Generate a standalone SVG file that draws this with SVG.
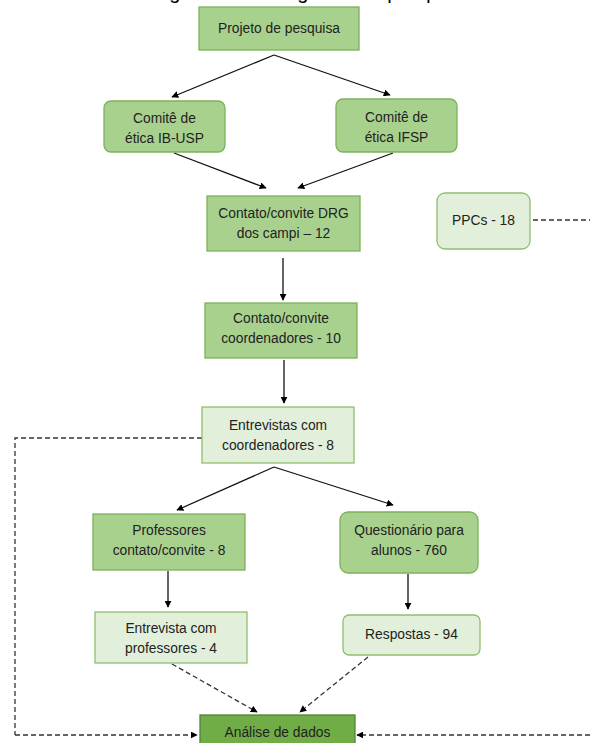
<svg xmlns="http://www.w3.org/2000/svg" width="590" height="743" viewBox="0 0 590 743">
<style>
.dark{fill:#a9d18e;stroke:#7cb15a;stroke-width:1.3}
.light{fill:#e2efda;stroke:#8fbf6e;stroke-width:1.3}
.main{fill:#70ad47;stroke:#548235;stroke-width:1.3}
text{font-family:"Liberation Sans",Arial,sans-serif;font-size:13.8px;fill:#222;text-anchor:middle}
.title{font-size:20px;fill:#000}
.solid{stroke:#111;stroke-width:1.3;fill:none;marker-end:url(#ah)}
.dash{stroke:#333;stroke-width:1.3;fill:none;stroke-dasharray:5 3}
.dasha{stroke:#333;stroke-width:1.3;fill:none;stroke-dasharray:5 3;marker-end:url(#ah)}
</style>
<defs>
<marker id="ah" viewBox="0 0 10 10" refX="9" refY="5" markerWidth="7" markerHeight="7" orient="auto" markerUnits="userSpaceOnUse"><path d="M0,0 L10,5 L0,10 z" fill="#000"/></marker>
</defs>
<rect width="590" height="743" fill="#fff"/>
<text class="title" x="310" y="-1">Figura 1 – Fluxograma da pesquisa</text>
<g id="connectors">
<path class="solid" d="M274,55 L172,97"/>
<path class="solid" d="M274,55 L390,95"/>
<path class="solid" d="M174,153 L266,188"/>
<path class="solid" d="M393,153 L298,188"/>
<path class="solid" d="M283,258 L283,300"/>
<path class="solid" d="M284,360 L284,403"/>
<path class="solid" d="M274,467 L177,510"/>
<path class="solid" d="M274,467 L393,505"/>
<path class="solid" d="M168,571 L168,607"/>
<path class="solid" d="M408,574 L408,609"/>
<path class="dasha" d="M172,664 L257,712"/>
<path class="dasha" d="M368,657 L300,712"/>
<path class="dash" d="M202,438 L15,438 L15,735"/>
<path class="dasha" d="M15,735 L197,735"/>
<path class="dash" d="M533,220 L590,220"/>
<path class="dasha" d="M590,735 L357,735"/>
</g>
<g id="projeto"><rect class="dark" x="199" y="7" width="160" height="43"/><text x="279" y="33">Projeto de pesquisa</text></g>
<g id="comite-ibusp"><rect class="dark" x="104" y="101" width="121" height="51" rx="7"/><text x="164.5" y="123">Comitê de</text><text x="164.5" y="143">ética IB-USP</text></g>
<g id="comite-ifsp"><rect class="dark" x="336" y="99" width="121" height="53" rx="7"/><text x="396.5" y="122">Comitê de</text><text x="396.5" y="142">ética IFSP</text></g>
<g id="drg"><rect class="dark" x="207" y="196" width="153" height="55"/><text x="283.5" y="218">Contato/convite DRG</text><text x="283.5" y="238">dos campi – 12</text></g>
<g id="ppcs"><rect class="light" x="437" y="193" width="93" height="56" rx="8"/><text x="483.5" y="225">PPCs - 18</text></g>
<g id="coordenadores"><rect class="dark" x="205" y="303" width="152" height="55"/><text x="281" y="323">Contato/convite</text><text x="281" y="343">coordenadores - 10</text></g>
<g id="entrevistas-coord"><rect class="light" x="202" y="407" width="152" height="56"/><text x="278" y="430">Entrevistas com</text><text x="278" y="450">coordenadores - 8</text></g>
<g id="professores"><rect class="dark" x="93" y="514" width="152" height="56"/><text x="169" y="535">Professores</text><text x="169" y="555">contato/convite - 8</text></g>
<g id="questionario"><rect class="dark" x="340" y="512" width="138" height="61" rx="8"/><text x="409" y="535">Questionário para</text><text x="409" y="555">alunos - 760</text></g>
<g id="entrevista-prof"><rect class="light" x="95" y="612" width="152" height="51"/><text x="171" y="633">Entrevista com</text><text x="171" y="653">professores - 4</text></g>
<g id="respostas"><rect class="light" x="343" y="615" width="137" height="40" rx="6"/><text x="411.5" y="639">Respostas - 94</text></g>
<g id="analise"><rect class="main" x="200" y="715" width="155" height="34"/><text x="277.5" y="737">Análise de dados</text></g>
</svg>
